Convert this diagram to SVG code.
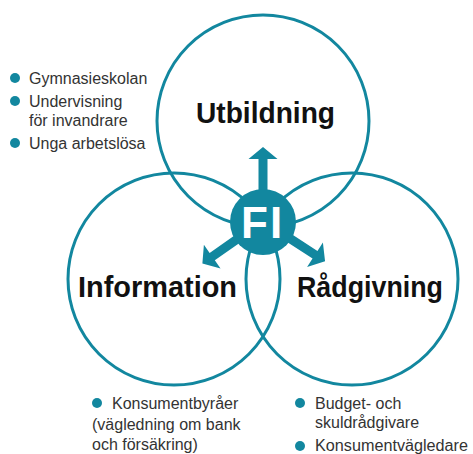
<svg xmlns="http://www.w3.org/2000/svg" width="473" height="454" viewBox="0 0 473 454">
  <defs>
    <style>
      .ring { fill: none; stroke: #12879f; stroke-width: 3; }
      .label { font-family: "Liberation Sans", Arial, sans-serif; font-weight: bold; font-size: 30px; fill: #111; }
      .item { font-family: "Liberation Sans", Arial, sans-serif; font-size: 16px; fill: #333; }
      .dot { fill: #12879f; }
      .hub { fill: #12879f; }
      .hub-text { font-family: "Liberation Sans", Arial, sans-serif; font-weight: bold; font-size: 44px; fill: #fff; }
    </style>
    <!-- arrow pointing straight up from the hub centre; tip 74px away -->
    <path id="spoke" d="M -4.5 -20 L -4.5 -62 L -14.5 -62 L 0 -74 L 14.5 -62 L 4.5 -62 L 4.5 -20 Z"/>
  </defs>

  <!-- three overlapping areas -->
  <g id="utbildning">
    <circle class="ring" cx="263" cy="121" r="106"/>
    <text class="label" x="196" y="123" textLength="139" lengthAdjust="spacingAndGlyphs">Utbildning</text>
  </g>
  <g id="information">
    <circle class="ring" cx="174" cy="279" r="106"/>
    <text class="label" x="78" y="297" textLength="159" lengthAdjust="spacingAndGlyphs">Information</text>
  </g>
  <g id="radgivning">
    <circle class="ring" cx="352" cy="279" r="106"/>
    <text class="label" x="297" y="297" textLength="146" lengthAdjust="spacingAndGlyphs">Rådgivning</text>
  </g>

  <!-- arrows from the hub into each area -->
  <g id="connectors" class="hub">
    <use href="#spoke" transform="translate(263 221)"/>
    <use href="#spoke" transform="translate(263 221) rotate(-125)"/>
    <use href="#spoke" transform="translate(263 221) rotate(123)"/>
  </g>

  <g id="fi">
    <circle class="hub" cx="263" cy="222" r="33"/>
    <text class="hub-text" y="238"><tspan x="241">F</tspan><tspan x="270">I</tspan></text>
  </g>

  <!-- target groups -->
  <g id="list-utbildning">
    <circle class="dot" cx="15" cy="78" r="5"/>
    <text class="item" x="29" y="84">Gymnasieskolan</text>
    <circle class="dot" cx="15" cy="101" r="5"/>
    <text class="item" x="29" y="107">Undervisning</text>
    <text class="item" x="29" y="126">för invandrare</text>
    <circle class="dot" cx="15" cy="143" r="5"/>
    <text class="item" x="29" y="149">Unga arbetslösa</text>
  </g>
  <g id="list-information">
    <circle class="dot" cx="97" cy="403" r="5"/>
    <text class="item" x="112" y="409">Konsumentbyråer</text>
    <text class="item" x="92" y="430">(vägledning om bank</text>
    <text class="item" x="92" y="450">och försäkring)</text>
  </g>
  <g id="list-radgivning">
    <circle class="dot" cx="300" cy="403" r="5"/>
    <text class="item" x="315" y="409">Budget- och</text>
    <text class="item" x="315" y="428">skuldrådgivare</text>
    <circle class="dot" cx="300" cy="446" r="5"/>
    <text class="item" x="315" y="451" textLength="153" lengthAdjust="spacingAndGlyphs">Konsumentvägledare</text>
  </g>
</svg>
